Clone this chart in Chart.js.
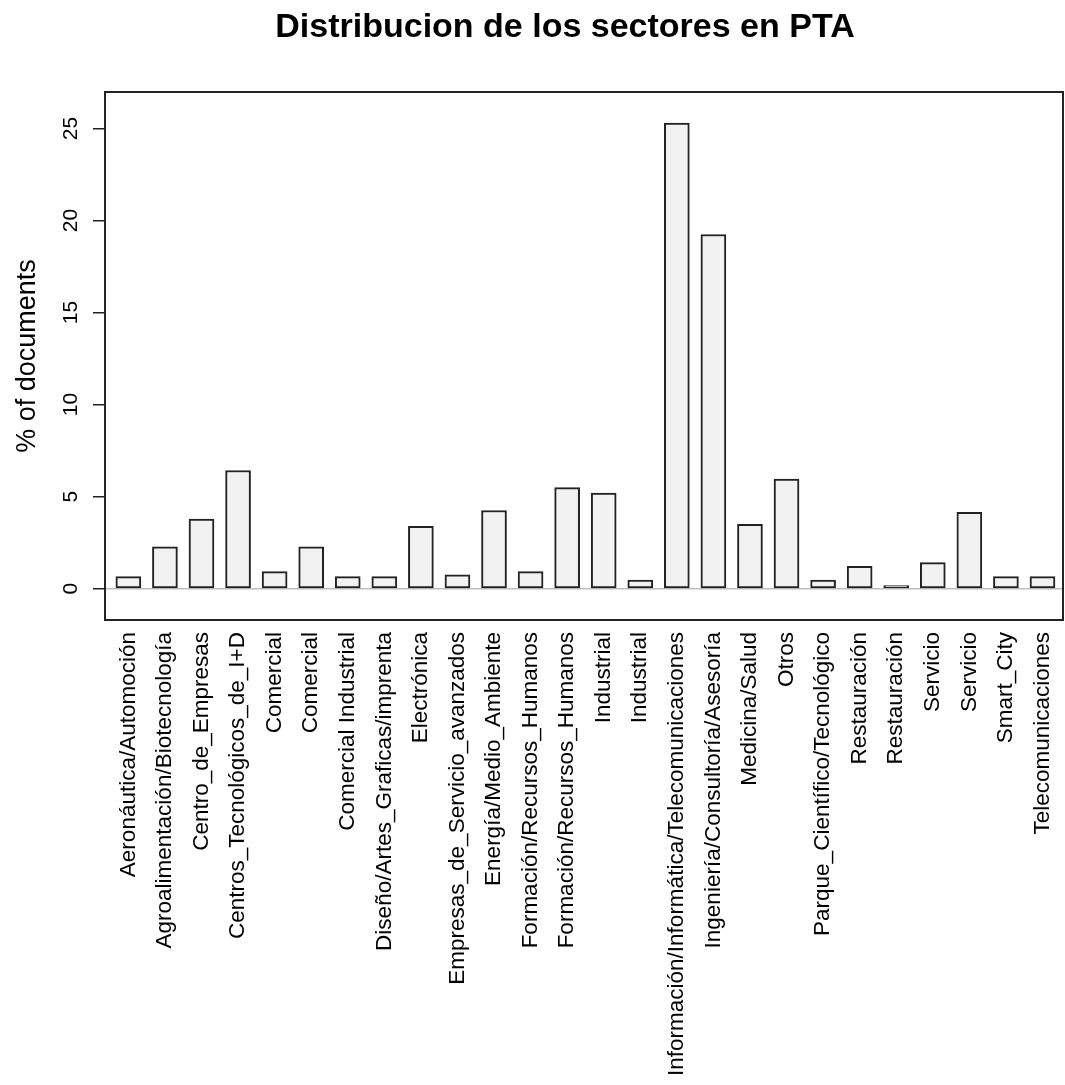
<!DOCTYPE html>
<html>
<head>
<meta charset="utf-8">
<script src="https://cdn.jsdelivr.net/npm/chart.js@4/dist/chart.umd.min.js"></script>
<style>
  html, body { margin: 0; padding: 0; background: #ffffff; }
  canvas { display: block; }
</style>
</head>
<body>
<canvas id="c" width="1065" height="1085"></canvas>
<script>
const chartTitle = "Distribucion de los sectores en PTA";
const yAxisTitle = "% of documents";

const categories = [
  "Aeronáutica/Automoción",
  "Agroalimentación/Biotecnología",
  "Centro_de_Empresas",
  "Centros_Tecnológicos_de_I+D",
  "Comercial",
  "Comercial",
  "Comercial Industrial",
  "Diseño/Artes_Graficas/imprenta",
  "Electrónica",
  "Empresas_de_Servicio_avanzados",
  "Energía/Medio_Ambiente",
  "Formación/Recursos_Humanos",
  "Formación/Recursos_Humanos",
  "Industrial",
  "Industrial",
  "Información/Informática/Telecomunicaciones",
  "Ingeniería/Consultoría/Asesoría",
  "Medicina/Salud",
  "Otros",
  "Parque_Científico/Tecnológico",
  "Restauración",
  "Restauración",
  "Servicio",
  "Servicio",
  "Smart_City",
  "Telecomunicaciones"
];

const percentDocs = [
  0.66, 2.27, 3.78, 6.42, 0.93, 2.27, 0.66, 0.66, 3.39, 0.76,
  4.25, 0.93, 5.49, 5.20, 0.47, 25.29, 19.24, 3.49, 5.95, 0.47,
  1.22, 0.17, 1.42, 4.15, 0.66, 0.66
];

const yTicks = [0, 5, 10, 15, 20, 25];

const FONT = "'Liberation Sans', Arial, Helvetica, sans-serif";

const boxAndTitle = {
  id: 'boxAndTitle',
  afterDraw(chart) {
    const ctx = chart.ctx;
    const a = chart.chartArea;
    ctx.save();
    ctx.strokeStyle = '#222222';
    ctx.lineWidth = 2;
    ctx.strokeRect(a.left, a.top, a.right - a.left, a.bottom - a.top);
    ctx.fillStyle = '#000000';
    ctx.font = "bold 34px " + FONT;
    ctx.textAlign = 'center';
    ctx.textBaseline = 'alphabetic';
    ctx.fillText(chartTitle, 565, 37);
    ctx.restore();
  }
};

new Chart(document.getElementById('c'), {
  type: 'bar',
  data: {
    datasets: [{
      data: percentDocs.map((v, i) => ({ x: i, y: v })),
      backgroundColor: '#f2f2f2',
      borderColor: '#222222',
      borderWidth: 2,
      borderSkipped: false,
      barThickness: 25
    }]
  },
  options: {
    responsive: false,
    devicePixelRatio: 1,
    animation: false,
    layout: { padding: { top: 92, right: 2, left: 0, bottom: 0 } },
    plugins: {
      legend: { display: false },
      tooltip: { enabled: false },
      title: { display: false }
    },
    scales: {
      x: {
        type: 'linear',
        offset: false,
        min: -0.639,
        max: 25.561,
        afterBuildTicks(scale) {
          scale.ticks = categories.map((_, i) => ({ value: i }));
        },
        afterFit(scale) {
          scale.height = 465;
          scale.paddingLeft = 0;
          scale.paddingRight = 0;
        },
        grid: { display: false },
        border: { display: false },
        ticks: {
          autoSkip: false,
          minRotation: 90,
          maxRotation: 90,
          padding: 4,
          color: '#000000',
          font: { family: FONT, size: 22.5 },
          callback: (value) => categories[value]
        }
      },
      y: {
        min: -1.70,
        max: 26.98,
        afterBuildTicks(scale) {
          scale.ticks = yTicks.map(v => ({ value: v }));
        },
        afterFit(scale) {
          scale.width = 105;
          scale.paddingTop = 0;
          scale.paddingBottom = 0;
        },
        border: { display: false },
        grid: {
          drawOnChartArea: true,
          drawTicks: true,
          tickLength: 12,
          tickWidth: 1.5,
          tickColor: '#222222',
          lineWidth: 1.5,
          color: (ctx) => (ctx.tick && ctx.tick.value === 0) ? '#bebebe' : 'rgba(0,0,0,0)'
        },
        ticks: {
          minRotation: 90,
          maxRotation: 90,
          crossAlign: 'center',
          padding: 10,
          color: '#000000',
          font: { family: FONT, size: 21 },
          callback: (value) => String(value)
        },
        title: {
          display: true,
          text: yAxisTitle,
          color: '#000000',
          font: { family: FONT, size: 27 },
          padding: { top: 11, bottom: 0 }
        }
      }
    }
  },
  plugins: [boxAndTitle]
});
</script>
</body>
</html>
